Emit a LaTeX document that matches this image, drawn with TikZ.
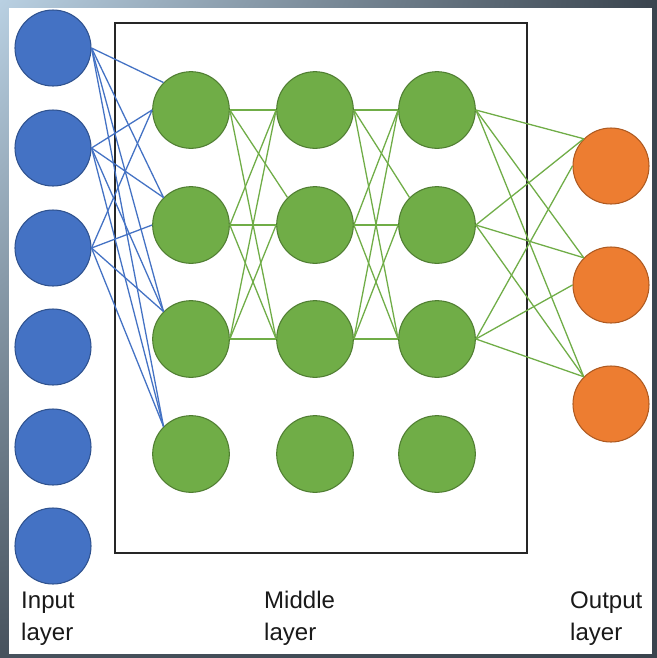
\documentclass[tikz,border=0pt]{standalone}
\usepackage{fontspec}
\setmainfont{Liberation Sans}
\usepackage{xcolor}
\usepackage{tikz}
\usetikzlibrary{shadings}
\definecolor{inblue}{HTML}{4472C4}
\definecolor{inbluedark}{HTML}{2F528F}
\definecolor{midgreen}{HTML}{70AD47}
\definecolor{midgreendark}{HTML}{507E32}
\definecolor{outorange}{HTML}{ED7D31}
\definecolor{outorangedark}{HTML}{AE5A21}
\definecolor{bglight}{HTML}{B9D0E2}
\definecolor{bgdark}{HTML}{3A444E}
\tikzset{
    inputnode/.style = {circle, minimum size=2.28cm, inner sep=0pt, draw=inbluedark, fill=inblue, line width=0.9pt},
    hiddennode/.style = {circle, minimum size=2.3cm, inner sep=0pt, draw=midgreendark, fill=midgreen, line width=0.9pt},
    outputnode/.style = {circle, minimum size=2.28cm, inner sep=0pt, draw=outorangedark, fill=outorange, line width=0.9pt},
    bluelink/.style = {draw=inblue, line width=1.1pt},
    greenlink/.style = {draw=midgreen, line width=1.1pt},
    layerlabel/.style = {anchor=base west, align=left, inner sep=0pt, text=black!90, font=\fontsize{20.5}{26.5}\selectfont},
    box/.style = {draw=black!85, line width=1.4pt}
}

\begin{document}
\begin{tikzpicture}[x=0.03cm, y=-0.03cm]
% frame round the slide
\shade [upper left=bglight, upper right=bgdark, lower left=bgdark!90!bglight, lower right=bgdark] (0,0) rectangle (657,658);
\fill [white] (9,8) rectangle (652,654);
\useasboundingbox (0,0) rectangle (657,658);

\draw [box] (115,23) rectangle (527,553);

% input layer
\node (in1) [inputnode] at (53,48) {};
\node (in2) [inputnode] at (53,148) {};
\node (in3) [inputnode] at (53,248) {};
\node (in4) [inputnode] at (53,347) {};
\node (in5) [inputnode] at (53,447) {};
\node (in6) [inputnode] at (53,546) {};

% middle layer
\node (m11) [hiddennode] at (191,110) {};
\node (m12) [hiddennode] at (191,225) {};
\node (m13) [hiddennode] at (191,339) {};
\node (m14) [hiddennode] at (191,454) {};
\node (m21) [hiddennode] at (315,110) {};
\node (m22) [hiddennode] at (315,225) {};
\node (m23) [hiddennode] at (315,339) {};
\node (m24) [hiddennode] at (315,454) {};
\node (m31) [hiddennode] at (437,110) {};
\node (m32) [hiddennode] at (437,225) {};
\node (m33) [hiddennode] at (437,339) {};
\node (m34) [hiddennode] at (437,454) {};

% output layer
\node (out1) [outputnode] at (611,166) {};
\node (out2) [outputnode] at (611,285) {};
\node (out3) [outputnode] at (611,404) {};

\draw [bluelink] (in1.east) -- (m11.north west);
\draw [bluelink] (in1.east) -- (m12.north west);
\draw [bluelink] (in1.east) -- (m13.north west);
\draw [bluelink] (in1.east) -- (m14.north west);
\draw [bluelink] (in2.east) -- (m11.west);
\draw [bluelink] (in2.east) -- (m12.north west);
\draw [bluelink] (in2.east) -- (m13.north west);
\draw [bluelink] (in2.east) -- (m14.north west);
\draw [bluelink] (in3.east) -- (m11.west);
\draw [bluelink] (in3.east) -- (m12.west);
\draw [bluelink] (in3.east) -- (m13.north west);
\draw [bluelink] (in3.east) -- (m14.north west);

\draw [greenlink] (m11.east) -- (m21.west);
\draw [greenlink] (m11.east) -- (m22.north west);
\draw [greenlink] (m11.east) -- (m23.west);
\draw [greenlink] (m12.east) -- (m21.west);
\draw [greenlink] (m12.east) -- (m22.west);
\draw [greenlink] (m12.east) -- (m23.west);
\draw [greenlink] (m13.east) -- (m21.west);
\draw [greenlink] (m13.east) -- (m22.west);
\draw [greenlink] (m13.east) -- (m23.west);

\draw [greenlink] (m21.east) -- (m31.west);
\draw [greenlink] (m21.east) -- (m32.north west);
\draw [greenlink] (m21.east) -- (m33.west);
\draw [greenlink] (m22.east) -- (m31.west);
\draw [greenlink] (m22.east) -- (m32.west);
\draw [greenlink] (m22.east) -- (m33.west);
\draw [greenlink] (m23.east) -- (m31.west);
\draw [greenlink] (m23.east) -- (m32.west);
\draw [greenlink] (m23.east) -- (m33.west);

\draw [greenlink] (m31.east) -- (out1.north west);
\draw [greenlink] (m31.east) -- (out2.north west);
\draw [greenlink] (m31.east) -- (out3.north west);
\draw [greenlink] (m32.east) -- (out1.north west);
\draw [greenlink] (m32.east) -- (out2.north west);
\draw [greenlink] (m32.east) -- (out3.north west);
\draw [greenlink] (m33.east) -- (out1.west);
\draw [greenlink] (m33.east) -- (out2.west);
\draw [greenlink] (m33.east) -- (out3.north west);

% labels
\node (inlabel) [layerlabel] at (21,640) {Input\\layer};
\node (midlabel) [layerlabel] at (264,640) {Middle\\layer};
\node (outlabel) [layerlabel] at (570,640) {Output\\layer};
\end{tikzpicture}
\end{document}
